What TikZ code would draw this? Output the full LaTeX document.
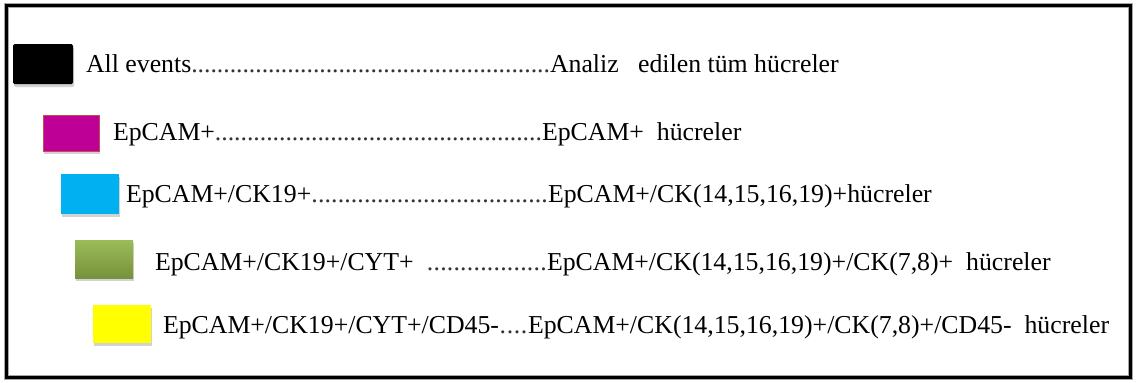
\documentclass[tikz,border=0pt]{standalone}
\usepackage{fontspec}
\setmainfont{Liberation Serif}
\newfontfamily\timesfont{Liberation Serif}
\usetikzlibrary{calc,shadows}
\definecolor{magentabox}{HTML}{BE0096}
\definecolor{magentaedge}{HTML}{C0504D}
\definecolor{cyanbox}{HTML}{00B0F0}
\definecolor{greentop}{HTML}{9BBB59}
\definecolor{greenbot}{HTML}{76923C}
\definecolor{yellowbox}{HTML}{FFFF00}
\tikzset{
  txt/.style={inner sep=0pt, outer sep=0pt, font=\timesfont\fontsize{25.8}{30}\selectfont},
  swatch/.style={inner sep=0pt, outer sep=0pt, anchor=north west,
    drop shadow={opacity=0.35, shadow xshift=1pt, shadow yshift=-3pt}},
}
\newcommand{\dotrow}[3]{%
  \path let \p1=(#2), \p2=(#3) in
    node[txt, anchor=base west, text=black!80] (#1) at (\x1,\y1)
    {\hbox to \dimexpr\x2-\x1\relax{\xleaders\hbox to 6.4pt{\hss.\hss}\hfill}};}
\begin{document}
\begin{tikzpicture}[x=1pt,y=-1pt]
\useasboundingbox (0,0) rectangle (1136,383);
\fill[white] (0,0) rectangle (1136,383);
% frame
\draw[line width=5.5pt, black!35] (6.5,5.5) rectangle (1130.5,377.5);
\draw[line width=3pt, black] (6.5,5.5) rectangle (1130.5,377.5);
% swatches
\node[swatch, fill=black, rounded corners=1.5pt, minimum width=60pt, minimum height=40pt] (s1) at (13,44) {};
\node[swatch, fill=magentabox, draw=magentaedge, line width=0.8pt, minimum width=56pt, minimum height=36pt] (s2) at (43,115) {};
\node[swatch, fill=cyanbox, minimum width=58pt, minimum height=40pt] (s3) at (61,174) {};
\node[swatch, top color=greentop, bottom color=greenbot, minimum width=58pt, minimum height=38pt] (s4) at (75,240) {};
\node[swatch, fill=yellowbox, minimum width=58pt, minimum height=38pt] (s5) at (93,305) {};
% row 1
\node[txt, anchor=base west] (l1) at (86,72) {All events};
\node[txt, anchor=base west] (r1) at (550,72) {Analiz\ \ \ edilen tüm hücreler};
\dotrow{d1}{l1.base east}{r1.base west}
% row 2
\node[txt, anchor=base west] (l2) at (113,140) {EpCAM+};
\node[txt, anchor=base west] (r2) at (542,140) {EpCAM+\ \ hücreler};
\dotrow{d2}{l2.base east}{r2.base west}
% row 3
\node[txt, anchor=base west] (l3) at (126,202) {EpCAM+/CK19+};
\node[txt, anchor=base west] (r3) at (548,202) {EpCAM+/CK(14,15,16,19)+hücreler};
\dotrow{d3}{l3.base east}{r3.base west}
% row 4
\node[txt, anchor=base west] (l4) at (155,270) {EpCAM+/CK19+/CYT+};
\node[txt, anchor=base west] (r4) at (547,270) {EpCAM+/CK(14,15,16,19)+/CK(7,8)+\ \ hücreler};
\coordinate (c4) at ($(l4.base east)+(13,0)$);
\dotrow{d4}{c4}{r4.base west}
% row 5
\node[txt, anchor=base west] (l5) at (163,333) {EpCAM+/CK19+/CYT+/CD45-};
\node[txt, anchor=base west] (r5) at (528,333) {EpCAM+/CK(14,15,16,19)+/CK(7,8)+/CD45-\ \ hücreler};
\dotrow{d5}{l5.base east}{r5.base west}
\end{tikzpicture}
\end{document}
